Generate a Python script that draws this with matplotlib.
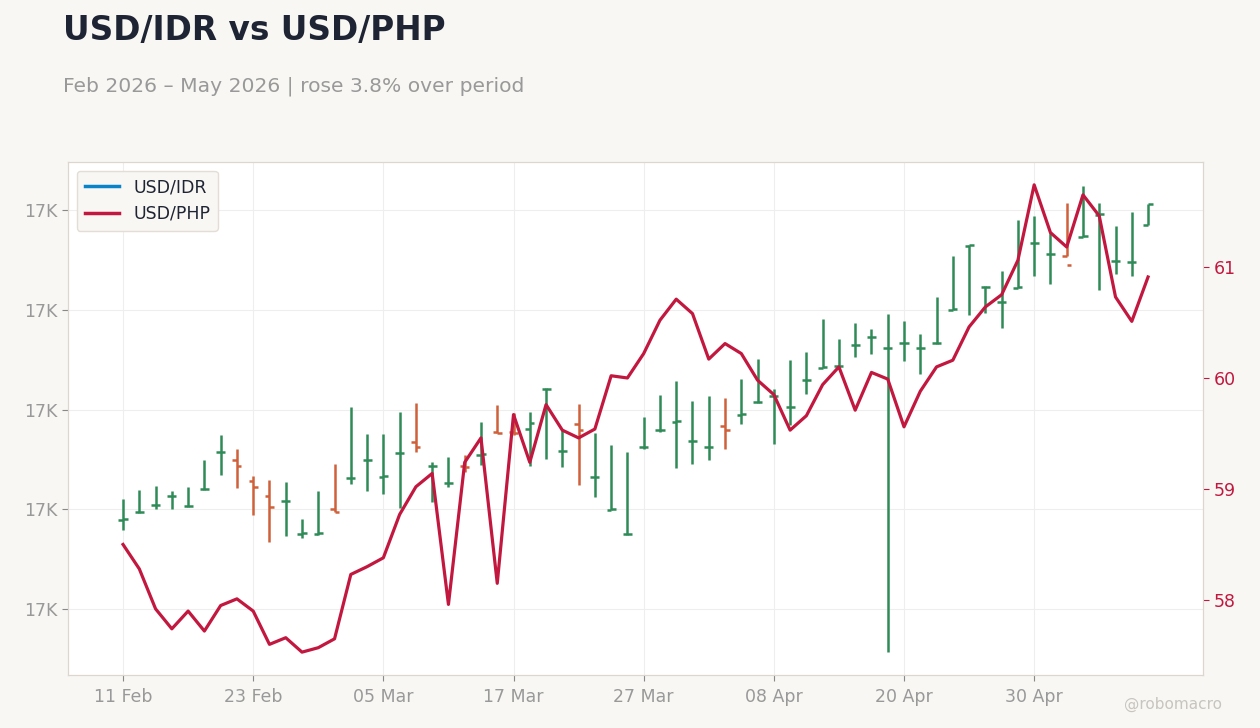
import numpy as np
import matplotlib
matplotlib.use("Agg")
import matplotlib.pyplot as plt
from matplotlib.lines import Line2D
from matplotlib.ticker import FuncFormatter, FixedLocator

# USD/IDR daily OHLC (business days, 11 Feb - 11 May 2026)
idr_open = [16779, 16794, 16808, 16826, 16806, 16840, 16914, 16899, 16857, 16827,
            16816, 16751, 16751, 16800, 16862, 16898, 16865, 16912, 16934, 16886,
            16852, 16886, 16909, 16954, 16955, 16961, 17041, 16916, 16970, 16864,
            16799, 16750, 16924, 16958, 16975, 16936, 16924, 16966, 16989, 17015,
            17027, 17005, 17059, 17084, 17087, 17129, 17145, 17123, 17133, 17123,
            17133, 17200, 17328, 17245, 17215, 17244, 17333, 17311, 17308, 17346,
            17390, 17297, 17295, 17370]
idr_high = [16821, 16839, 16847, 16837, 16845, 16899, 16949, 16921, 16866, 16859,
            16855, 16780, 16837, 16891, 17005, 16951, 16951, 16995, 17013, 16895,
            16905, 16909, 16975, 17009, 16994, 16995, 17043, 16959, 17012, 16952,
            16928, 16915, 16985, 17029, 17057, 17017, 17027, 17023, 17061, 17101,
            17041, 17099, 17115, 17181, 17141, 17173, 17161, 17191, 17177, 17151,
            17226, 17308, 17330, 17247, 17278, 17380, 17388, 17356, 17413, 17448,
            17413, 17368, 17396, 17412]
idr_low = [16759, 16793, 16800, 16801, 16805, 16839, 16869, 16843, 16789, 16735,
           16747, 16742, 16749, 16794, 16850, 16837, 16831, 16803, 16915, 16815,
           16845, 16874, 16889, 16952, 16949, 16887, 16901, 16885, 16849, 16825,
           16798, 16749, 16921, 16954, 16883, 16891, 16899, 16921, 16970, 17013,
           16931, 16968, 17032, 17083, 17086, 17105, 17112, 16514, 17098, 17071,
           17132, 17199, 17190, 17193, 17164, 17243, 17268, 17251, 17307, 17345,
           17240, 17272, 17268, 17370]
idr_close = [16780, 16795, 16809, 16827, 16807, 16841, 16915, 16887, 16845, 16805,
             16817, 16752, 16752, 16795, 16863, 16899, 16866, 16913, 16925, 16887,
             16853, 16885, 16910, 16953, 16953, 16972, 17042, 16917, 16959, 16865,
             16800, 16751, 16925, 16959, 16976, 16937, 16925, 16959, 16990, 17016,
             17028, 17006, 17060, 17085, 17088, 17130, 17146, 17124, 17134, 17124,
             17134, 17201, 17329, 17246, 17216, 17245, 17334, 17312, 17289, 17347,
             17391, 17298, 17296, 17411]

# USD/PHP daily close
php_close = [58.50, 58.28, 57.92, 57.74, 57.90, 57.72, 57.95, 58.01, 57.90, 57.60,
             57.66, 57.53, 57.57, 57.65, 58.23, 58.30, 58.38, 58.77, 59.02, 59.14,
             57.96, 59.24, 59.46, 58.15, 59.67, 59.24, 59.76, 59.53, 59.46, 59.54,
             60.02, 60.00, 60.22, 60.52, 60.71, 60.58, 60.17, 60.31, 60.22, 59.98,
             59.85, 59.53, 59.66, 59.94, 60.10, 59.71, 60.05, 59.99, 59.56, 59.88,
             60.10, 60.16, 60.46, 60.64, 60.75, 61.06, 61.74, 61.31, 61.18, 61.65,
             61.46, 60.73, 60.51, 60.91]

xtick_labels = ["11 Feb", "23 Feb", "05 Mar", "17 Mar", "27 Mar", "08 Apr", "20 Apr", "30 Apr"]
idr_ticks = [16600, 16800, 17000, 17200, 17400]
php_ticks = [58, 59, 60, 61]

BG = "#F8F7F4"
GREEN = "#2E8B57"
RED = "#D0603A"
CRIMSON = "#C2183F"
BLUE = "#0A84C8"
GRAY = "#999999"
EDGE = "#DDD6CD"

x = np.arange(len(idr_close))
o = np.array(idr_open)
c = np.array(idr_close)
colors = np.where(c >= o, GREEN, RED)

fig = plt.figure(figsize=(12.6, 7.28), dpi=100, facecolor=BG)
ax = fig.add_axes([0.054, 0.0728, 0.9008, 0.7047])
ax.set_facecolor("white")

# OHLC bars
ax.vlines(x, idr_low, idr_high, colors=colors, linewidth=1.8, zorder=3)
ax.hlines(o, x - 0.28, x, colors=colors, linewidth=1.8, zorder=3)
ax.hlines(c, x, x + 0.28, colors=colors, linewidth=1.8, zorder=3)

ax.set_xlim(-3.38, 66.38)
ax.set_ylim(16468, 17496)
ax.yaxis.set_major_locator(FixedLocator(idr_ticks))
ax.yaxis.set_major_formatter(FuncFormatter(lambda v, p: f"{v / 1000:.0f}K"))
ax.set_xticks(np.arange(0, len(x), 8)[:len(xtick_labels)])
ax.set_xticklabels(xtick_labels)
ax.grid(True, color="#EEEEEE", linewidth=0.8, zorder=0)
ax.tick_params(axis="both", colors="#888888", labelcolor=GRAY, labelsize=12.5, length=4)
ax.tick_params(axis="x", pad=5)
for s in ax.spines.values():
    s.set_color(EDGE)

ax2 = ax.twinx()
ax2.plot(x, php_close, color=CRIMSON, linewidth=2.3, zorder=4)
ax2.set_ylim(57.324, 61.946)
ax2.set_yticks(php_ticks)
ax2.tick_params(axis="y", colors=CRIMSON, labelcolor=CRIMSON, labelsize=12.5, length=4)
for s in ax2.spines.values():
    s.set_color(EDGE)

handles = [Line2D([0], [0], color=BLUE, lw=2.5), Line2D([0], [0], color=CRIMSON, lw=2.5)]
leg = ax.legend(handles, ["USD/IDR", "USD/PHP"], loc="upper left", fontsize=12.5,
                frameon=True, facecolor=BG, edgecolor="#E3DDD5", framealpha=1,
                borderaxespad=0.5, handlelength=2.0, labelspacing=0.48,
                borderpad=0.45)
leg.set_zorder(10)
for t in leg.get_texts():
    t.set_color("#1E2433")

fig.text(0.05, 0.958, "USD/IDR vs USD/PHP", fontsize=23.6, fontweight="bold",
         color="#1E2433", va="center", ha="left")
fig.text(0.05, 0.882, "Feb 2026 \u2013 May 2026 | rose 3.8% over period", fontsize=14.6,
         color=GRAY, va="center", ha="left")
fig.text(0.97, 0.032, "@robomacro", fontsize=11, color="#C8C4BE", ha="right", va="center")

fig.savefig("out.png", dpi=100, facecolor=BG)
